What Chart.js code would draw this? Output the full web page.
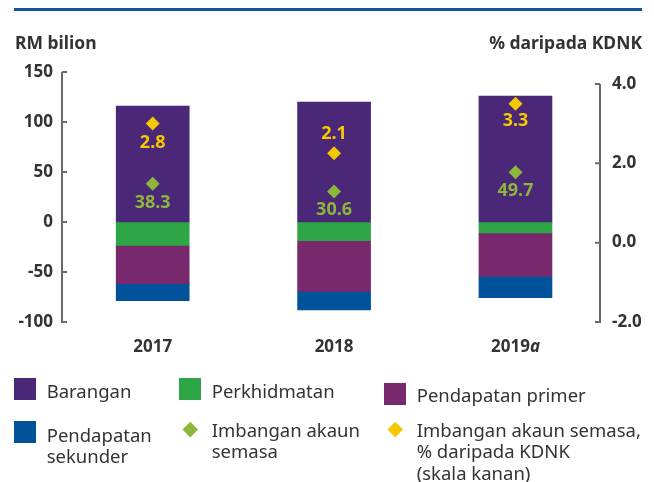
<!DOCTYPE html>
<html>
<head>
<meta charset="utf-8">
<script src="https://cdn.jsdelivr.net/npm/chart.js@4.4.1/dist/chart.umd.min.js"></script>
<style>
  body { margin: 0; background: #fff; }
  #wrap { position: relative; width: 654px; height: 482px; font-family: "Noto Sans", sans-serif; color: #333; }
  #chart { position: absolute; left: 0; top: 0; }
  .lg-box { position: absolute; width: 22px; height: 22px; }
  .lg-dia { position: absolute; width: 10.5px; height: 10.5px; transform: rotate(45deg); }
  .lg-txt { position: absolute; font-size: 18.5px; line-height: 21.5px; white-space: pre; }
</style>
</head>
<body>
<div id="wrap">
  <canvas id="chart" width="654" height="482"></canvas>
  <div id="legend"></div>
</div>
<script>
// ============================================================
// DATA
// ============================================================
const categories = ["2017", "2018", "2019a"];
const barangan = [116, 120, 126];
const perkhidmatan = [-23.3, -18.7, -11.0];
const pendapatanPrimer = [-38.4, -50.6, -43.3];
const pendapatanSekunder = [-17.0, -18.7, -21.4];
const imbangan = [38.3, 30.6, 49.7];
// diamonds as drawn on the right scale, and the values printed next to them
const imbanganKdnk = [3.0, 2.25, 3.5];
const imbanganKdnkLabels = ["2.8", "2.1", "3.3"];
const leftTicks = [-100, -50, 0, 50, 100, 150];
const rightTicks = [-2, 0, 2, 4];

const COLORS = {
  barangan: "#4a2777",
  perkhidmatan: "#2ea646",
  primer: "#78286c",
  sekunder: "#00539b",
  imbangan: "#8cb63c",
  kdnk: "#f5c800",
  text: "#333333",
  axis: "#6a6a6a",
  rule: "#17539d"
};
const FONT = '"Noto Sans", sans-serif';

const toXY = vals => vals.map((v, i) => ({ x: i, y: v }));

// ============================================================
// DATASETS
// ============================================================
function barSet(label, vals, color) {
  return {
    type: "bar", label, data: toXY(vals), backgroundColor: color,
    borderWidth: 0, barThickness: 73, yAxisID: "y", order: 1
  };
}
function diamondSet(label, vals, color, axis, texts, offsets) {
  return {
    type: "line", label, data: toXY(vals), yAxisID: axis, showLine: false,
    pointStyle: "rectRot", pointRadius: 7, pointHoverRadius: 7,
    pointBackgroundColor: color, pointBorderWidth: 0, borderColor: color,
    order: 0, valueTexts: texts, textOffsets: offsets
  };
}

const datasets = [
  barSet("Barangan", barangan, COLORS.barangan),
  barSet("Perkhidmatan", perkhidmatan, COLORS.perkhidmatan),
  barSet("Pendapatan primer", pendapatanPrimer, COLORS.primer),
  barSet("Pendapatan sekunder", pendapatanSekunder, COLORS.sekunder),
  diamondSet("Imbangan akaun semasa", imbangan, COLORS.imbangan, "y",
    imbangan.map(v => v.toFixed(1)), [19, 18, 19]),
  diamondSet("Imbangan akaun semasa, % daripada KDNK (skala kanan)", imbanganKdnk, COLORS.kdnk, "y1",
    imbanganKdnkLabels, [19, -19, 17])
];

// ============================================================
// PLUGINS
// ============================================================
const frame = {
  id: "frame",
  afterDraw(chart) {
    const ctx = chart.ctx;
    const y = chart.scales.y, y1 = chart.scales.y1, x = chart.scales.x;
    const L = chart.chartArea.left, R = chart.chartArea.right;
    ctx.save();
    // top rule
    ctx.fillStyle = COLORS.rule;
    ctx.fillRect(14, 8, 628, 3);
    // titles
    ctx.fillStyle = COLORS.text;
    ctx.font = "bold 17.5px " + FONT;
    ctx.textBaseline = "alphabetic";
    ctx.textAlign = "left";
    ctx.fillText("RM bilion", 15, 49);
    ctx.textAlign = "right";
    ctx.fillText("% daripada KDNK", 642, 49);
    // axis lines + inward tick marks
    ctx.strokeStyle = COLORS.axis;
    ctx.lineWidth = 2;
    ctx.beginPath();
    ctx.moveTo(L, y.getPixelForValue(leftTicks[leftTicks.length - 1]));
    ctx.lineTo(L, y.getPixelForValue(leftTicks[0]) + 1);
    leftTicks.forEach(v => {
      const p = y.getPixelForValue(v);
      ctx.moveTo(L, p); ctx.lineTo(L + 5, p);
    });
    ctx.moveTo(R, y1.getPixelForValue(rightTicks[rightTicks.length - 1]));
    ctx.lineTo(R, y1.getPixelForValue(rightTicks[0]) + 1);
    rightTicks.forEach(v => {
      const p = y1.getPixelForValue(v);
      ctx.moveTo(R, p); ctx.lineTo(R - 5, p);
    });
    ctx.stroke();
    // category labels (trailing letter in italic)
    ctx.textAlign = "left";
    categories.forEach((c, i) => {
      const m = c.match(/^(\d+)(\D*)$/);
      ctx.font = "bold 17px " + FONT;
      const w1 = ctx.measureText(m[1]).width;
      ctx.font = "italic bold 17px " + FONT;
      const w2 = ctx.measureText(m[2]).width;
      const x0 = x.getPixelForValue(i) - (w1 + w2) / 2;
      ctx.font = "bold 17px " + FONT;
      ctx.fillText(m[1], x0, 352);
      ctx.font = "italic bold 17px " + FONT;
      ctx.fillText(m[2], x0 + w1, 352);
    });
    ctx.restore();
  }
};

const valueLabels = {
  id: "valueLabels",
  afterDatasetsDraw(chart) {
    const ctx = chart.ctx;
    ctx.save();
    ctx.font = "bold 18px " + FONT;
    ctx.textAlign = "center";
    ctx.textBaseline = "middle";
    chart.data.datasets.forEach((ds, di) => {
      if (!ds.valueTexts) return;
      const meta = chart.getDatasetMeta(di);
      ctx.fillStyle = ds.pointBackgroundColor;
      meta.data.forEach((pt, i) => {
        ctx.fillText(ds.valueTexts[i], pt.x, pt.y + ds.textOffsets[i]);
      });
    });
    ctx.restore();
  }
};

// ============================================================
// CHART
// ============================================================
const tickFont = { family: FONT, size: 17, weight: "bold" };

new Chart(document.getElementById("chart"), {
  data: { datasets },
  options: {
    responsive: false,
    animation: false,
    layout: { padding: { left: 0, right: 0, top: 72, bottom: 160 } },
    plugins: { legend: { display: false }, tooltip: { enabled: false } },
    scales: {
      x: {
        type: "linear", min: -0.5, max: 2.466, display: false, stacked: true, offset: false
      },
      y: {
        position: "left", min: -100, max: 150, stacked: true,
        grid: { display: false, drawTicks: false }, border: { display: false },
        afterBuildTicks: s => { s.ticks = leftTicks.map(v => ({ value: v })); },
        afterFit: s => { s.width = 62; },
        ticks: { padding: 9, color: COLORS.text, font: tickFont }
      },
      y1: {
        position: "right", min: -2, max: 4.3,
        grid: { display: false, drawTicks: false }, border: { display: false },
        afterBuildTicks: s => { s.ticks = rightTicks.map(v => ({ value: v })); },
        afterFit: s => { s.width = 54; },
        ticks: { padding: 12, color: COLORS.text, font: tickFont, callback: v => Number(v).toFixed(1) }
      }
    }
  },
  plugins: [frame, valueLabels]
});

// ============================================================
// LEGEND
// ============================================================
const legendText = [
  "Barangan",
  "Perkhidmatan",
  "Pendapatan primer",
  "Pendapatan\nsekunder",
  "Imbangan akaun\nsemasa",
  "Imbangan akaun semasa,\n% daripada KDNK\n(skala kanan)"
];
const legendColors = [COLORS.barangan, COLORS.perkhidmatan, COLORS.primer, COLORS.sekunder, COLORS.imbangan, COLORS.kdnk];
// marker shape/position and text position per entry
const legendLayout = [
  { shape: "box", mx: 14, my: 378, tx: 46.7, ty: 380.4 },
  { shape: "box", mx: 179, my: 378, tx: 211.7, ty: 380.4 },
  { shape: "box", mx: 384, my: 383, tx: 416.7, ty: 384.4 },
  { shape: "box", mx: 14, my: 421, tx: 46.7, ty: 423.8 },
  { shape: "dia", mx: 190, my: 429, tx: 211.7, ty: 418.8 },
  { shape: "dia", mx: 395, my: 429, tx: 416.7, ty: 418.8 }
];
const legendEl = document.getElementById("legend");
legendLayout.forEach((l, i) => {
  const mk = document.createElement("div");
  mk.style.background = legendColors[i];
  if (l.shape === "box") {
    mk.className = "lg-box";
    mk.style.left = l.mx + "px";
    mk.style.top = l.my + "px";
  } else {
    mk.className = "lg-dia";
    mk.style.left = (l.mx - 5.25) + "px";
    mk.style.top = (l.my - 5.25) + "px";
  }
  legendEl.appendChild(mk);
  const tx = document.createElement("div");
  tx.className = "lg-txt";
  tx.style.left = l.tx + "px";
  tx.style.top = l.ty + "px";
  tx.textContent = legendText[i];
  legendEl.appendChild(tx);
});
</script>
</body>
</html>
